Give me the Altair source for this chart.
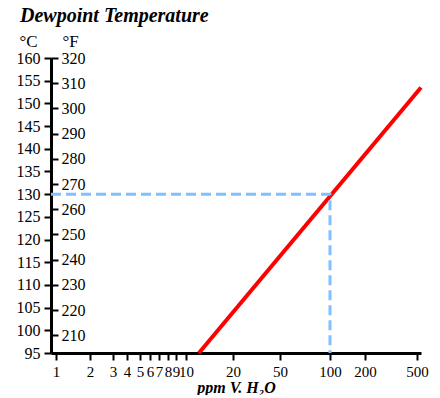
import altair as alt
import pandas as pd

# ---- data ----
x_ticks = [1, 2, 3, 4, 5, 6, 7, 8, 9, 10, 20, 50, 100, 200, 500]
c_ticks = [95, 100, 105, 110, 115, 120, 125, 130, 135, 140, 145, 150, 155, 160]
f_ticks = [210, 220, 230, 240, 250, 260, 270, 280, 290, 300, 310, 320]

red_ppm = [12.1, 537]
red_c = [95, 153.5]

dash_ppm = [0.9, 100, 100]
dash_c = [130, 130, 95]

# hand-drawn (non-uniform) log axis of the reference: piecewise scale
x_domain = [0.9] + x_ticks + [537]
x_range = [0, 5, 39, 62, 76, 89, 99, 108, 117, 125, 135, 182, 229, 279, 314, 366, 370]

W, H = 370, 295
FONT = "Liberation Serif"

xscale = alt.Scale(type="log", domain=x_domain, range=x_range, nice=False)
cscale = alt.Scale(domain=[95, 160], nice=False, zero=False)
fscale = alt.Scale(domain=[95 * 9 / 5 + 32, 160 * 9 / 5 + 32], nice=False, zero=False)

xaxis = alt.Axis(values=x_ticks, format="d", orient="bottom", tickSize=7, tickWidth=2,
                 domainWidth=3, labelPadding=4, labelFont=FONT, labelFontSize=15,
                 labelOverlap=False, labelFlush=False, labelBound=False,
                 title="ppm V. H₂O", titleFont=FONT, titleFontSize=16,
                 titleFontStyle="italic", titleFontWeight="bold",
                 titleBaseline="alphabetic", titleY=39)

caxis = alt.Axis(values=c_ticks, orient="left", tickSize=7, tickWidth=2, domainWidth=3,
                 labelPadding=4, labelFont=FONT, labelFontSize=16, labelOverlap=False,
                 labelFlush=False, labelBound=False,
                 title="°C", titleAngle=0, titleX=-23, titleY=-12, titleAlign="center",
                 titleBaseline="alphabetic", titleFont=FONT, titleFontSize=17,
                 titleFontWeight="normal")

faxis = alt.Axis(values=f_ticks, orient="right", offset=-W, tickSize=7, tickWidth=2,
                 domain=False, labelPadding=3, labelFont=FONT, labelFontSize=16,
                 labelOverlap=False, labelFlush=False, labelBound=False,
                 title="°F", titleAngle=0, titleX=19, titleY=-12, titleAlign="center",
                 titleBaseline="alphabetic", titleFont=FONT, titleFontSize=17,
                 titleFontWeight="normal")

red_df = pd.DataFrame({"ppm": red_ppm, "c": red_c})
dash_df = pd.DataFrame({"ppm": dash_ppm, "c": dash_c, "o": [0, 1, 2]})
f_df = pd.DataFrame({"f": f_ticks})

red = alt.Chart(red_df).mark_line(color="#ff0000", strokeWidth=4).encode(
    x=alt.X("ppm:Q", scale=xscale, axis=xaxis),
    y=alt.Y("c:Q", scale=cscale, axis=caxis),
)

dash = alt.Chart(dash_df).mark_line(color="#80c0ff", strokeWidth=3, strokeDash=[10, 5]).encode(
    x=alt.X("ppm:Q", scale=xscale, axis=xaxis),
    y=alt.Y("c:Q", scale=cscale, axis=caxis),
    order="o:O",
)

title = alt.Chart(alt.Data(values=[{}])).mark_text(
    text="Dewpoint Temperature", align="left", baseline="alphabetic",
    font=FONT, fontSize=20, fontStyle="italic", fontWeight="bold", color="black"
).encode(x=alt.value(-31), y=alt.value(-36))

inner = alt.layer(red, dash, title)

fl = alt.Chart(f_df).mark_point(opacity=0).encode(
    y=alt.Y("f:Q", scale=fscale, axis=faxis),
)

chart = alt.layer(inner, fl).resolve_scale(y="independent").properties(
    width=W, height=H,
    autosize=alt.AutoSizeParams(type="none"),
    padding={"left": 43, "top": 50, "right": 10, "bottom": 42},
).configure_view(stroke=None).configure_axis(
    grid=False, domainColor="black", tickColor="black", labelColor="black",
    titleColor="black"
)

chart.save("out.html", embed_options={"renderer": "svg", "actions": False})
